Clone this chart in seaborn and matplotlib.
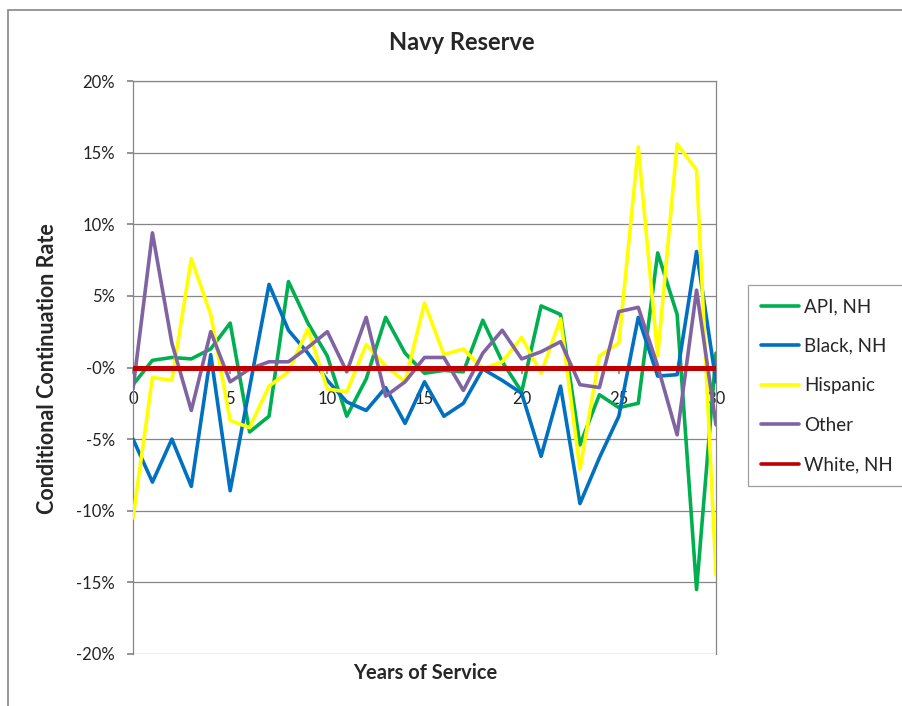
import numpy as np
import pandas as pd
import seaborn as sb
from matplotlib import pyplot as plt
from matplotlib.patches import Rectangle
from matplotlib.ticker import PercentFormatter

years = list(range(31))

api_nh = [-1.2, 0.5, 0.7, 0.6, 1.3, 3.1, -4.5, -3.4, 6.0, 3.1, 0.8,
          -3.4, -0.8, 3.5, 1.0, -0.4, -0.2, -0.3, 3.3, 0.4, -1.7,
          4.3, 3.7, -5.4, -1.9, -2.8, -2.5, 8.0, 3.7, -15.5, 1.0]
black_nh = [-5.0, -8.0, -5.0, -8.3, 0.9, -8.6, -1.4, 5.8, 2.6, 1.0, -0.9,
            -2.4, -3.0, -1.4, -3.9, -1.0, -3.4, -2.5, -0.1, -0.9, -1.8,
            -6.2, -1.3, -9.5, -6.3, -3.4, 3.5, -0.6, -0.5, 8.1, -1.0]
hispanic = [-10.5, -0.7, -0.9, 7.6, 3.7, -3.7, -4.2, -1.3, -0.3, 2.7, -1.5,
            -1.7, 1.6, 0.1, -1.0, 4.5, 0.9, 1.3, -0.1, 0.4, 2.1,
            -0.4, 3.4, -7.1, 0.8, 1.7, 15.4, 0.8, 15.6, 13.8, -14.5]
other = [-1.5, 9.4, 1.7, -3.0, 2.5, -1.0, -0.1, 0.4, 0.4, 1.4, 2.5,
         -0.3, 3.5, -2.0, -1.0, 0.7, 0.7, -1.6, 1.0, 2.6, 0.6,
         1.1, 1.8, -1.2, -1.4, 3.9, 4.2, 0.1, -4.7, 5.4, -4.0]
white_nh = [0.0] * 31

groups = ['API, NH', 'Black, NH', 'Hispanic', 'Other', 'White, NH']
colors = ['#00B050', '#0070C0', '#FFFF00', '#8064A2', '#C00000']
series = [api_nh, black_nh, hispanic, other, white_nh]

rows = []
for g, vals in zip(groups, series):
    for yr, v in zip(years, vals):
        rows.append({'Years': yr, 'Rate': v / 100.0, 'Group': g})
df = pd.DataFrame(rows)

sb.set_theme(style='white')
plt.rcParams['font.family'] = ['Lato', 'DejaVu Sans']
plt.rcParams['axes.unicode_minus'] = False

W, H = 902, 706
fig = plt.figure(figsize=(W / 100, H / 100), dpi=100)
ax = fig.add_axes([133 / W, 1 - 654 / H, (716 - 133) / W, (654 - 81) / H])

sb.lineplot(data=df, x='Years', y='Rate', hue='Group', hue_order=groups,
            palette=dict(zip(groups, colors)), estimator=None,
            linewidth=2.6, legend=False, ax=ax)
for ln in ax.lines:
    ln.set_zorder(3)
ax.lines[-1].set_linewidth(3.6)

gray = '#868686'
ax.set_xlim(0, 30)
ax.set_ylim(-0.2, 0.2)
ax.set_xticks(range(0, 31, 5))
ax.set_yticks(np.arange(-0.2, 0.201, 0.05))
ax.yaxis.set_major_formatter(PercentFormatter(1.0, decimals=0))
ax.grid(axis='y', color=gray, linewidth=0.9)
ax.grid(axis='x', visible=False)
ax.set_axisbelow(True)
for s in ['left', 'right', 'top', 'bottom']:
    ax.spines[s].set_visible(True)
    ax.spines[s].set_color(gray)
    ax.spines[s].set_linewidth(0.9)
ax.spines['bottom'].set_position(('data', 0))
ax.tick_params(axis='x', direction='out', length=4, color=gray, pad=13,
               labelsize=12, labelcolor='#222222', bottom=True)
ax.tick_params(axis='y', direction='out', length=4, color=gray, pad=9,
               labelsize=12, labelcolor='#222222', left=True)
ax.set_xlabel('')
ax.set_ylabel('')

fig.text(462 / W, 1 - 43 / H, 'Navy Reserve', ha='center', va='center',
         fontsize=17, fontweight='bold')
fig.text(425 / W, 1 - 673 / H, 'Years of Service', ha='center', va='center',
         fontsize=14.5, fontweight='bold')
fig.text(47.5 / W, 1 - 368.5 / H, 'Conditional Continuation Rate',
         ha='center', va='center', rotation=90, fontsize=15.5, fontweight='bold')

# chart area border (cropped at right and bottom)
fig.add_artist(Rectangle((8 / W, -0.1), 1.2, 1 - 10 / H + 0.1,
                         transform=fig.transFigure, fill=False,
                         edgecolor=gray, linewidth=1.2))

handles = ax.lines[:5]
leg = fig.legend(handles, groups, loc='upper left',
                 bbox_to_anchor=(748 / W, 1 - 285 / H), fontsize=13.5,
                 frameon=True, fancybox=False, edgecolor=gray,
                 handlelength=2.0, handletextpad=0.3, labelspacing=1.2,
                 borderpad=0.7, borderaxespad=0)
leg.get_frame().set_linewidth(0.9)
for line in leg.get_lines():
    line.set_linewidth(2.6)

fig.savefig('out.png', dpi=100)
